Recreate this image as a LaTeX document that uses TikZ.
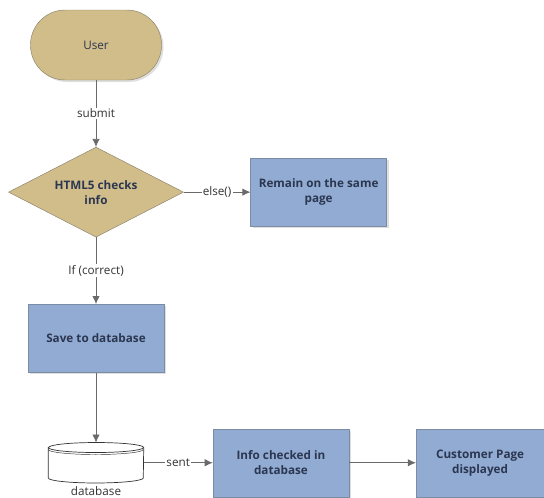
\documentclass[tikz,border=0pt]{standalone}
\usepackage{fontspec}
\setmainfont{Open Sans}
\usetikzlibrary{arrows.meta,positioning,shapes.geometric,shadows}
\definecolor{tan}{HTML}{D1BD8A}
\definecolor{tanline}{HTML}{8C826C}
\definecolor{boxblue}{HTML}{91ABD2}
\definecolor{boxline}{HTML}{7C8CA4}
\definecolor{ink}{HTML}{2B3650}
\definecolor{line}{HTML}{6A6A6A}
\definecolor{labelgray}{HTML}{333333}
\tikzset{
  font=\fontsize{10}{12.8}\selectfont,
  shade/.style={
    drop shadow={opacity=0.25, shadow xshift=0.6mm, shadow yshift=-0.6mm}
  },
  terminal/.style={
    draw=tanline,
    fill=tan,
    rounded corners=10.4mm,
    minimum width=39.3mm,
    minimum height=21mm,
    text=ink,
    shade
  },
  decision/.style={
    diamond,
    draw=tanline,
    fill=tan,
    aspect=2,
    inner sep=1pt,
    minimum width=52.5mm,
    minimum height=27mm,
    align=center,
    text=ink,
    font=\fontsize{10}{12.8}\selectfont\bfseries
  },
  process/.style={
    draw=boxline,
    fill=boxblue,
    minimum width=40.8mm,
    minimum height=20.4mm,
    align=center,
    text=ink,
    font=\fontsize{10}{12.8}\selectfont\bfseries,
    shade
  },
  storebox/.style={
    inner sep=0pt,
    minimum width=28.5mm,
    minimum height=12mm
  },
  storeline/.style={
    draw=black!80,
    line width=0.6pt
  },
  arrow/.style={
    -{Latex[length=2.4mm,width=2.2mm]},
    draw=line,
    line width=0.6pt
  },
  edgelabel/.style={
    fill=white,
    text=labelgray,
    inner sep=1pt
  }
}

\begin{document}
\begin{tikzpicture}[node distance=20mm]
\useasboundingbox (0,0) rectangle (163.2mm,-149.1mm);

% Main column, top to bottom
\node[terminal] (user) at (28.8mm,-13.5mm) {User};
\node[decision, below=20mm of user] (check) {HTML5 checks\\info};
\node[process, right=of check] (remain) {Remain on the same\\page};
\node[process, below=of check] (save) {Save to database};
\node[storebox, below=21mm of save] (db) {};
\node[text=labelgray, inner sep=0pt, below=1mm of db] (dblabel) {database};

% Cylinder drawn on the db node
\draw[storeline, fill=white] ([yshift=-1.5mm]db.north west)
  -- ([yshift=1.5mm]db.south west)
  arc[start angle=180, end angle=360, x radius=14.25mm, y radius=1.5mm]
  -- ([yshift=-1.5mm]db.north east)
  arc[start angle=0, end angle=180, x radius=14.25mm, y radius=1.5mm]
  -- cycle;
\draw[storeline] ([yshift=-1.5mm]db.north west)
  arc[start angle=180, end angle=360, x radius=14.25mm, y radius=1.5mm];
\draw[storeline, line width=0.4pt] ([yshift=-2.1mm]db.north west)
  arc[start angle=180, end angle=360, x radius=14.25mm, y radius=1.5mm];

% Bottom row
\node[process, right=20.7mm of db] (info) {Info checked in\\database};
\node[process, right=of info, minimum width=38.4mm] (page) {Customer Page\\displayed};

\draw[arrow] (user) -- node[edgelabel] {submit} (check);
\draw[arrow] (check) -- node[edgelabel] {else()} (remain);
\draw[arrow] (check) -- node[edgelabel] {If (correct)} (save);
\draw[arrow] (save) -- (db);
\draw[arrow] (db) -- node[edgelabel] {sent} (info);
\draw[arrow] (info) -- (page);

\end{tikzpicture}
\end{document}
